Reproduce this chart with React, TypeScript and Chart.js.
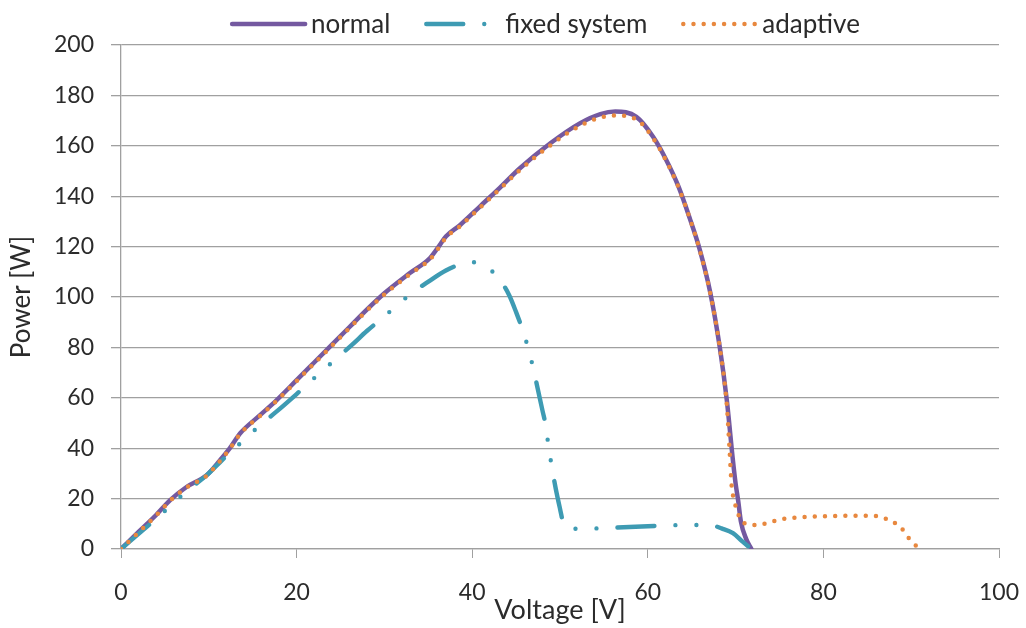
import React, { useEffect, useRef } from 'react';
import { Chart, registerables } from 'chart.js';

Chart.register(...registerables);

// ---------- data ----------
const seriesLabels = ['normal', 'fixed system', 'adaptive'];

const normalV = [0, 2, 4, 5.6, 7.5, 9.8, 11.3, 12.4, 13.6, 15.8, 17.7, 20, 22, 24, 26, 28, 30, 32.9, 35.2, 36.3, 37, 38.6, 40.9, 43.2, 45.4, 48.9, 52.3, 54.6, 56.3, 58.7, 60.6, 62.1, 63.5, 64.8, 65.9, 67.1, 68.2, 69.0, 69.7, 70.0, 70.3, 70.6, 71.2, 71.8];
const normalP = [0, 6.8, 13.5, 19.4, 24.7, 29.4, 35.3, 40, 46, 53, 59, 67, 74, 81, 88, 95, 101.5, 109.5, 115.5, 120.6, 124, 128.5, 136, 143.5, 151, 161, 169, 172.6, 173.6, 171.5, 163.6, 154.4, 143.8, 131, 119, 102, 80, 59, 35, 26, 19, 11, 4, 0];

const fixedV = [0, 2, 4.1, 5.6, 7.5, 9.8, 11, 12.4, 14.1, 16, 17.7, 20, 22.7, 24.6, 26.3, 28, 29.5, 31.3, 33.1, 35.1, 37, 38.8, 40, 41.1, 42, 42.9, 44.2, 45, 45.7, 46.4, 47, 47.5, 48, 48.4, 48.7, 49.1, 49.5, 50, 50.4, 51, 52.5, 55, 60, 63.8, 66.1, 67.5, 68.4, 69.7, 70.8, 71.8];
const fixedP = [0, 6, 12.3, 17, 23, 29.4, 33.5, 38.2, 43.6, 49.6, 54.5, 61.5, 70, 75.8, 81, 86.5, 90.9, 96.2, 101.5, 106.3, 110.5, 113.1, 113.8, 113.1, 111, 108, 100.8, 94, 87.3, 79.4, 71, 63, 55, 48.5, 40.5, 32.1, 24.2, 16, 10, 8.2, 8, 8.3, 9, 9.5, 9.5, 9.2, 8.2, 6.3, 2.9, 0];

const adaptiveV = [0, 2, 4, 5.6, 7.5, 9.8, 11.3, 12.4, 13.6, 15.8, 17.7, 20, 22, 24, 26, 28, 30, 32.9, 35.2, 36.3, 37, 38.6, 40.9, 43.2, 45.4, 48.9, 52.3, 54.6, 56.3, 58.7, 60.6, 62.1, 63.5, 64.8, 65.9, 67.1, 68.2, 69.0, 69.3, 69.55, 69.75, 70.1, 70.5, 71.4, 72.6, 73.7, 74.9, 76, 78.5, 80.8, 83.2, 85.6, 86.8, 87.9, 88.9, 89.6, 90.3, 91.3];
const adaptiveP = [0, 6.6, 13.3, 19.2, 24.5, 29.2, 35, 39.8, 45.8, 52.7, 58.7, 66.6, 73.6, 80.6, 87.6, 94.6, 101, 109, 115, 120, 123.5, 128, 135.5, 143, 150.3, 160.2, 168, 171.2, 172, 170.5, 163, 154, 143.5, 131, 118.8, 101.7, 80, 57, 40, 25, 20.5, 16, 12.2, 9.8, 9.5, 10.4, 11.5, 12.2, 12.8, 13.1, 13.2, 13.2, 12.4, 10.8, 8.2, 4.9, 2, 0];

const xMin = 0, xMax = 100, xStep = 20;
const yMin = 0, yMax = 200, yStep = 20;
const xTitle = 'Voltage [V]';
const yTitle = 'Power [W]';

// ---------- styles ----------
const FONT = 'Lato';
const TEXT = '#2b2b2b';
const GRID = '#A0A0A0';
const colors = ['#7459A0', '#3E9BB3', '#E8883F'];

const toPoints = (v: number[], p: number[]) => v.map((x, i) => ({ x, y: p[i] }));

const legendPlugin = {
  id: 'customLegend',
  afterDraw(chart: any) {
    const ctx = chart.ctx as CanvasRenderingContext2D;
    ctx.save();
    ctx.font = `26px ${FONT}`;
    const lineW = 73, gap = 6, spacing = 36;
    const dsets = chart.data.datasets;
    const widths = dsets.map((d: any) => ctx.measureText(d.label).width);
    const total = widths.reduce((s: number, w: number) => s + lineW + gap + w, 0) + spacing * (dsets.length - 1);
    const center = (chart.chartArea.left + chart.chartArea.right) / 2 - 14;
    let x = center - total / 2;
    const y = 24;
    dsets.forEach((d: any, i: number) => {
      ctx.save();
      ctx.strokeStyle = d.borderColor;
      ctx.lineWidth = d.borderWidth;
      ctx.lineCap = d.borderCapStyle || 'butt';
      ctx.setLineDash(d.borderDash || []);
      ctx.beginPath();
      ctx.moveTo(x, y);
      ctx.lineTo(x + lineW, y);
      ctx.stroke();
      ctx.restore();
      ctx.fillStyle = TEXT;
      ctx.textBaseline = 'middle';
      ctx.textAlign = 'left';
      ctx.fillText(d.label, x + lineW + gap, y + 1);
      x += lineW + gap + widths[i] + spacing;
    });
    ctx.restore();
  },
};

export default function App() {
  const ref = useRef<HTMLCanvasElement | null>(null);

  useEffect(() => {
    if (!ref.current) return;
    const chart = new Chart(ref.current, {
      type: 'line',
      data: {
        datasets: [
          {
            label: seriesLabels[0],
            data: toPoints(normalV, normalP),
            borderColor: colors[0],
            borderWidth: 4.5,
            borderCapStyle: 'round',
            borderJoinStyle: 'round',
            pointRadius: 0,
            cubicInterpolationMode: 'monotone',
            fill: false,
            order: 2,
          },
          {
            label: seriesLabels[1],
            data: toPoints(fixedV, fixedP),
            borderColor: colors[1],
            borderWidth: 4.4,
            borderDash: [37, 21, 0, 21, 0, 21],
            borderCapStyle: 'round',
            borderJoinStyle: 'round',
            pointRadius: 0,
            cubicInterpolationMode: 'monotone',
            fill: false,
            order: 1,
          },
          {
            label: seriesLabels[2],
            data: toPoints(adaptiveV, adaptiveP),
            borderColor: colors[2],
            borderWidth: 4.5,
            borderDash: [0, 10.2],
            borderCapStyle: 'round',
            borderJoinStyle: 'round',
            pointRadius: 0,
            cubicInterpolationMode: 'monotone',
            fill: false,
            order: 0,
          },
        ] as any,
      },
      options: {
        responsive: false,
        animation: false,
        layout: { padding: { top: 45, right: 27, bottom: 0, left: 0 } },
        plugins: {
          legend: { display: false },
          tooltip: { enabled: false },
        },
        scales: {
          x: {
            type: 'linear',
            min: xMin,
            max: xMax,
            ticks: { stepSize: xStep, color: TEXT, font: { family: FONT, size: 23 }, padding: 21, maxRotation: 0 },
            grid: { drawOnChartArea: false, drawTicks: true, tickLength: 9, color: GRID, lineWidth: 1 },
            border: { display: true, color: GRID, width: 1.3 },
            title: { display: true, text: xTitle, color: TEXT, font: { family: FONT, size: 27 }, padding: { top: 0, bottom: 2 } },
            afterFit: (s: any) => { s.height = 79; s.paddingRight = 0; s.paddingLeft = 0; },
          },
          y: {
            type: 'linear',
            min: yMin,
            max: yMax,
            ticks: { stepSize: yStep, color: TEXT, font: { family: FONT, size: 23 }, padding: 17 },
            grid: { color: GRID, lineWidth: 1.3, drawTicks: true, tickLength: 10 },
            border: { display: true, color: GRID, width: 1.3 },
            title: { display: true, text: yTitle, color: TEXT, font: { family: FONT, size: 26 }, padding: { top: 6, bottom: 0 } },
            afterFit: (s: any) => { s.width = 121; },
          },
        },
      } as any,
      plugins: [legendPlugin],
    });
    return () => chart.destroy();
  }, []);

  return (
    <div style={{ position: 'fixed', left: 0, top: 0, width: 1026, height: 628, background: '#fff' }}>
      <canvas ref={ref} width={1026} height={628} style={{ display: 'block' }} />
    </div>
  );
}
